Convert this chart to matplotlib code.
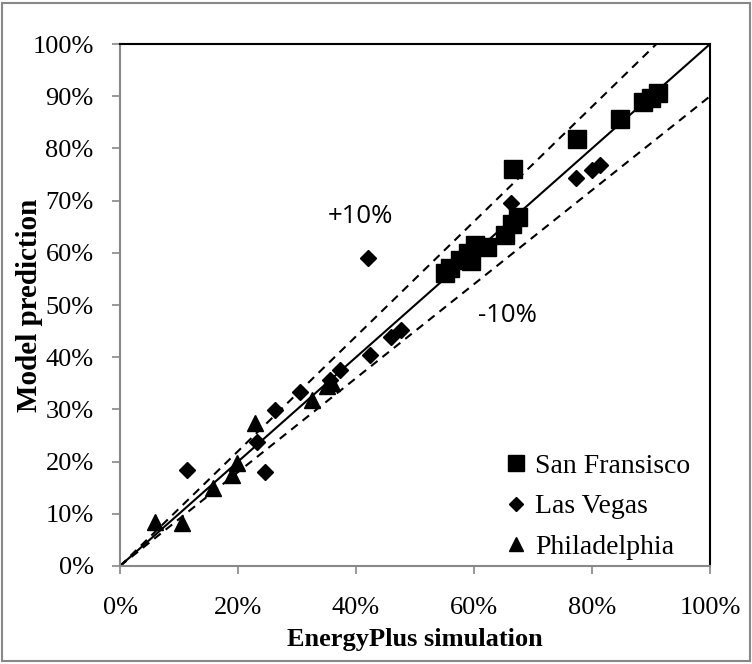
import numpy as np
import matplotlib
matplotlib.use("Agg")
import matplotlib.pyplot as plt
from matplotlib.ticker import PercentFormatter

# Daten (EnergyPlus vs. Modell), in Prozent
sf_x = [77.4, 84.7, 88.7, 90.0, 91.2, 66.6, 67.5, 66.5, 65.3, 62.2, 60.2, 59.0, 57.6, 55.1, 56.0, 59.5]
sf_y = [81.8, 85.6, 88.9, 89.6, 90.6, 76.0, 66.9, 65.5, 63.4, 61.1, 61.5, 60.0, 58.6, 56.1, 57.0, 58.5]

lv_x = [42.0, 66.2, 77.3, 80.0, 81.4, 47.7, 46.0, 42.4, 37.3, 35.6, 30.5, 26.3, 23.2, 24.6, 11.3]
lv_y = [59.0, 69.5, 74.3, 75.9, 76.8, 45.2, 43.9, 40.4, 37.5, 35.6, 33.4, 29.9, 23.8, 18.0, 18.4]

ph_x = [5.9, 10.5, 15.8, 19.0, 19.8, 22.9, 32.5, 35.0, 36.0]
ph_y = [8.4, 8.2, 14.9, 17.4, 19.7, 27.4, 31.8, 34.5, 35.0]

serif = "Liberation Serif"

fig = plt.figure(figsize=(7.52, 6.64), dpi=100)
ax = fig.add_axes([0.1596, 0.1476, 0.7846, 0.7861])

# Hilfslinien: 1:1 und +/-10%
line = np.array([0, 100])
ax.plot(line, line, color="black", lw=1.5, zorder=1)
ax.plot(line, line * 1.1, color="black", lw=1.5, ls=(0, (4, 3)), zorder=1)
ax.plot(line, line * 0.9, color="black", lw=1.5, ls=(0, (4, 3)), zorder=1)

ax.plot(sf_x, sf_y, "s", color="black", ms=13, ls="none", label="San Fransisco", zorder=3)
ax.plot(lv_x, lv_y, "D", color="black", ms=8.5, ls="none", label="Las Vegas", zorder=3)
ax.plot(ph_x, ph_y, "^", color="black", ms=12, ls="none", label="Philadelphia", zorder=3)

ax.text(40.7, 67, "+10%", fontsize=18.5, family="Open Sans", ha="center", va="center")
ax.text(65.7, 48, "-10%", fontsize=18.5, family="Open Sans", ha="center", va="center")

ax.set_xlim(0, 100)
ax.set_ylim(0, 100)
ax.set_xticks(np.arange(0, 101, 20))
ax.set_yticks(np.arange(0, 101, 10))
ax.xaxis.set_major_formatter(PercentFormatter(decimals=0))
ax.yaxis.set_major_formatter(PercentFormatter(decimals=0))
ax.tick_params(axis="both", direction="out", length=6, width=1.2, color="#888888",
               labelsize=19)
ax.tick_params(axis="x", pad=16)
ax.tick_params(axis="y", pad=13)
for lab in ax.get_xticklabels() + ax.get_yticklabels():
    lab.set_family(serif)

for side in ["left", "bottom"]:
    ax.spines[side].set_color("#888888")
    ax.spines[side].set_linewidth(1.5)
for side in ["top", "right"]:
    ax.spines[side].set_color("black")
    ax.spines[side].set_linewidth(1.5)

ax.set_xlabel("EnergyPlus simulation", fontsize=19, fontweight="bold", family=serif, labelpad=7)
ax.set_ylabel("Model prediction", fontsize=21, fontweight="bold", family=serif)
ax.yaxis.set_label_coords(-0.130, 0.5)

leg = ax.legend(loc="lower right", frameon=False, prop={"family": serif, "size": 20},
                handletextpad=0.2, labelspacing=0.55, borderaxespad=0.0, handlelength=1.0,
                markerscale=0.85, bbox_to_anchor=(0.985, -0.01))

# Rahmen um das Diagramm
fig.patches.append(plt.Rectangle((0.003, 0.004), 0.994, 0.992, transform=fig.transFigure,
                                 fill=False, edgecolor="#888888", lw=1.5))

fig.savefig("out.png", dpi=100)
